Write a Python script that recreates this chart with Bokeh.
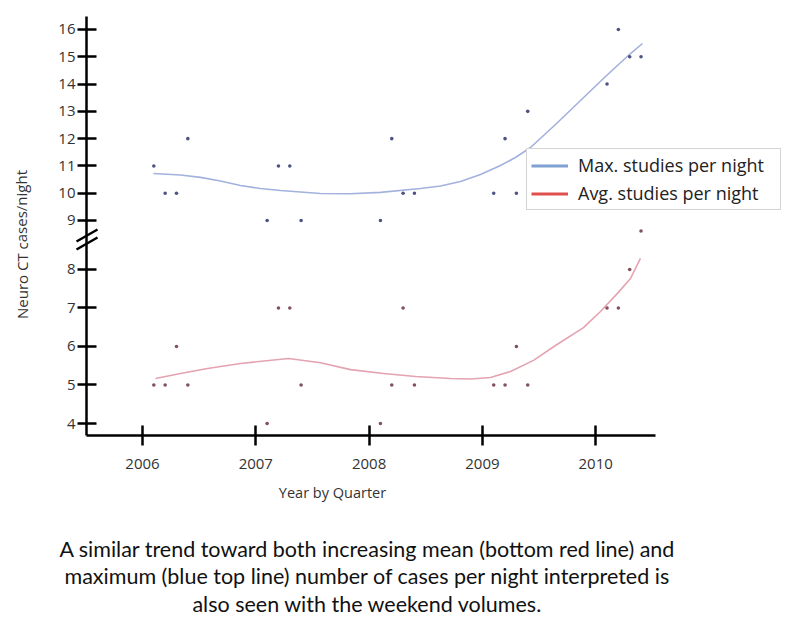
from bokeh.plotting import figure
from bokeh.models import (Range1d, FixedTicker, Legend, LegendItem, Label,
                          PolyAnnotation)
from bokeh.embed import file_html
from bokeh.resources import INLINE

# ---------------- data ----------------
quarter_x = [2006.1, 2006.2, 2006.3, 2006.4,
             2007.1, 2007.2, 2007.3, 2007.4,
             2008.1, 2008.2, 2008.3, 2008.4,
             2009.1, 2009.2, 2009.3, 2009.4,
             2010.1, 2010.2, 2010.3, 2010.4]
max_per_night = [11, 10, 10, 12,
                 9, 11, 11, 9,
                 9, 12, 10, 10,
                 10, 12, 10, 13,
                 14, 16, 15, 15]
avg_per_night = [5, 5, 6, 5,
                 4, 7, 7, 5,
                 4, 5, 7, 5,
                 5, 5, 6, 5,
                 7, 7, 8, 9]

# smoothed trend curves
max_fit_x = [2006.097, 2006.335, 2006.512, 2006.688, 2006.865, 2007.041, 2007.218,
             2007.395, 2007.571, 2007.836, 2008.101, 2008.454, 2008.630, 2008.807,
             2008.983, 2009.160, 2009.292, 2009.425, 2009.645, 2009.866, 2010.087,
             2010.307, 2010.413]
max_fit_y = [10.72, 10.667, 10.58, 10.448, 10.28, 10.173, 10.10,
             10.044, 9.99, 9.98, 10.03, 10.17, 10.265, 10.429,
             10.686, 11.016, 11.309, 11.675, 12.518, 13.398, 14.277,
             15.120, 15.487]
avg_fit_x = [2006.115, 2006.335, 2006.574, 2006.865, 2007.289, 2007.571, 2007.836,
             2008.127, 2008.410, 2008.718, 2008.895, 2009.071, 2009.248, 2009.451,
             2009.645, 2009.892, 2010.042, 2010.192, 2010.307, 2010.395]
avg_fit_y = [5.17, 5.30, 5.43, 5.56, 5.69, 5.58, 5.40,
             5.30, 5.22, 5.17, 5.156, 5.195, 5.351, 5.64,
             6.026, 6.49, 6.909, 7.38, 7.766, 8.29]

year_ticks = [2006, 2007, 2008, 2009, 2010]
lower_ticks = [4, 5, 6, 7, 8]
upper_ticks = [9, 10, 11, 12, 13, 14, 15, 16]

series_labels = ["Max. studies per night", "Avg. studies per night"]
y_title = "Neuro CT cases/night"
x_title = "Year by Quarter"
caption = ["A similar trend toward both increasing mean (bottom red line) and",
           "maximum (blue top line) number of cases per night interpreted is",
           "also seen with the weekend volumes."]

# ---------------- styling / layout ----------------
FONT = "Open Sans"
CAP_FONT = "Lato"
BLUE_LINE = "#a3b1dd"
RED_LINE = "#e4a3b0"
BLUE_KEY = "#7fa0d2"
RED_KEY = "#e0504f"
BLUE_DOT = "#4d5383"
RED_DOT = "#82505e"
NAN = float("nan")

W, H = 795, 617
# frame covers the whole canvas; axes are pinned with fixed_location
x_range = Range1d(2004.74669, 2011.76346)
lower = Range1d(-1.03896, 14.98701)      # scale of the bottom (average) segment
upper = Range1d(-5.5497, 17.0628)        # scale of the top (maximum) segment
X_AXIS_AT = 3.68831
Y_AXIS_AT = 2005.50574
X_AXIS_END = 2010.52780
Y_AXIS_END = 14.57143

p = figure(width=W, height=H, output_backend="svg", toolbar_location=None,
           x_range=x_range, y_range=lower, min_border=0)
p.extra_y_ranges = {"upper": upper}
p.outline_line_color = None
p.grid.visible = False
p.background_fill_color = "white"
p.border_fill_color = "white"

# trend lines
p.line(max_fit_x, max_fit_y, y_range_name="upper", line_color=BLUE_LINE,
       line_width=1.6, line_join="round")
p.line(avg_fit_x, avg_fit_y, line_color=RED_LINE, line_width=1.6, line_join="round")

# points
p.scatter(quarter_x, max_per_night, y_range_name="upper", size=3.6,
          fill_color=BLUE_DOT, line_color=None)
p.scatter(quarter_x, avg_per_night, size=3.6, fill_color=RED_DOT, line_color=None)

# legend (key renderers that draw nothing in the plot)
k1 = p.line([NAN, NAN], [NAN, NAN], line_color=BLUE_KEY, line_width=3)
k2 = p.line([NAN, NAN], [NAN, NAN], line_color=RED_KEY, line_width=3)
legend = Legend(items=[LegendItem(label=series_labels[0], renderers=[k1]),
                       LegendItem(label=series_labels[1], renderers=[k2])],
                location=(526, 407), margin=0, padding=4, spacing=4,
                glyph_width=37, glyph_height=23, label_height=23, label_standoff=10,
                label_width=198,
                label_text_font=FONT, label_text_font_size="18px",
                label_text_color="#222222",
                border_line_color="#a9a9a9", border_line_width=1,
                background_fill_color="white", background_fill_alpha=1)
p.add_layout(legend, "center")

# x axis
xa = p.xaxis[0]
xa.fixed_location = X_AXIS_AT
xa.bounds = (Y_AXIS_AT, X_AXIS_END)
xa.ticker = FixedTicker(ticks=year_ticks)
xa.axis_line_width = 2.5
xa.axis_line_color = "black"
xa.major_tick_line_width = 2.5
xa.major_tick_line_color = "black"
xa.major_tick_in = 10
xa.major_tick_out = 10
xa.minor_tick_line_color = None
xa.major_label_standoff = 13
xa.major_label_text_font = FONT
xa.major_label_text_font_size = "15px"
xa.major_label_text_color = "#333333"

# y axis: upper values placed on the lower scale
def to_lower(v):
    return round(lower.start + (v - upper.start) * (lower.end - lower.start)
                 / (upper.end - upper.start), 6)

upper_pos = [to_lower(v) for v in upper_ticks]
ya = p.yaxis[0]
ya.fixed_location = Y_AXIS_AT
ya.bounds = (X_AXIS_AT, Y_AXIS_END)
ya.ticker = FixedTicker(ticks=[float(v) for v in lower_ticks] + upper_pos)
ya.major_label_overrides = {pos: str(v) for pos, v in zip(upper_pos, upper_ticks)}
ya.axis_line_width = 2.5
ya.axis_line_color = "black"
ya.major_tick_line_width = 2.5
ya.major_tick_line_color = "black"
ya.major_tick_in = 10
ya.major_tick_out = 9
ya.minor_tick_line_color = None
ya.major_label_standoff = 2
ya.major_label_text_font = FONT
ya.major_label_text_font_size = "15px"
ya.major_label_text_color = "#333333"

# axis break marks
for dy in (0, 8):
    p.add_layout(PolyAnnotation(xs=[76, 97], ys=[368 + dy, 380 + dy],
                                xs_units="screen", ys_units="screen",
                                line_color="black", line_alpha=1, line_width=2.5,
                                fill_alpha=0))

# titles
p.add_layout(Label(x=21, y=373, x_units="screen", y_units="screen", text=y_title,
                   angle=1.5708, text_align="center", text_baseline="middle",
                   text_font=FONT, text_font_size="15px", text_color="#333333"))
p.add_layout(Label(x=332, y=125, x_units="screen", y_units="screen", text=x_title,
                   text_align="center", text_baseline="middle",
                   text_font=FONT, text_font_size="14.5px", text_color="#333333"))

for i, line in enumerate(caption):
    p.add_layout(Label(x=367, y=69 - 27.5 * i, x_units="screen", y_units="screen",
                       text=line, text_align="center", text_baseline="middle",
                       text_font=CAP_FONT, text_font_size="21.5px", text_color="#111111"))

open("out.html", "w").write(file_html(p, INLINE))
